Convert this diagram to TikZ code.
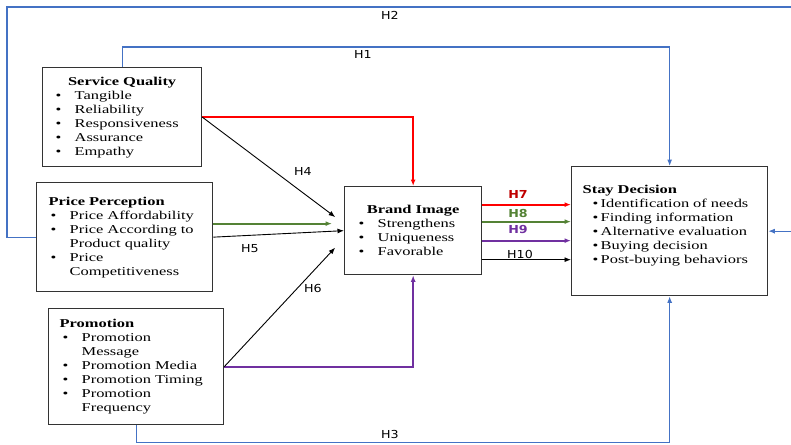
\documentclass[tikz,border=0pt]{standalone}
\usepackage{fontspec}
\setmainfont[FakeStretch=1.37]{Liberation Serif}
\newfontfamily\hypfont[FakeStretch=1.15]{DejaVu Sans}
\usepackage{tikz}
\usetikzlibrary{arrows.meta,positioning,calc}
\definecolor{Link}{HTML}{4472C4}
\definecolor{Hot}{HTML}{FF0000}
\definecolor{HotText}{HTML}{C00000}
\definecolor{Leaf}{HTML}{548235}
\definecolor{Plum}{HTML}{7030A0}
\definecolor{Frame}{HTML}{333333}
\newcommand{\bul}[1]{\makebox[#1][l]{\textbullet}}
\tikzset{
  >={Latex[length=6.5pt,width=5pt]},
  box/.style={draw=Frame,line width=1.3pt,fill=white,anchor=north west,inner xsep=0pt,inner ysep=0pt,align=left,font=\fontsize{12}{14}\selectfont},
  link/.style={->,line width=.9pt,draw=black},
  direct/.style={link,draw=Link,line width=1.1pt},
  via/.style={link,line width=2pt},
  hlab/.style={font=\hypfont\fontsize{11}{13}\selectfont,inner sep=1pt},
  hbold/.style={hlab,font=\hypfont\bfseries\fontsize{11}{13}\selectfont}
}
\begin{document}
\begin{tikzpicture}[x=1pt,y=-1pt]
  \useasboundingbox[fill=white] (0,0) rectangle (791,444);
  \node[box,text width=159pt,minimum height=99pt] (sq) at (42,67) {\makebox[159pt]{\textbf{Service Quality}}\\
    \hspace*{13pt}\bul{19pt}Tangible\\ \hspace*{13pt}\bul{19pt}Reliability\\ \hspace*{13pt}\bul{19pt}Responsiveness\\
    \hspace*{13pt}\bul{19pt}Assurance\\ \hspace*{13pt}\bul{19pt}Empathy};
  \node[box,text width=176pt,minimum height=109pt] (pp) at (36,182) {\hspace*{12pt}\textbf{Price Perception}\\
    \hspace*{14pt}\bul{19pt}Price Affordability\\ \hspace*{14pt}\bul{19pt}Price According to\\ \hspace*{33pt}Product quality\\
    \hspace*{14pt}\bul{19pt}Price\\ \hspace*{33pt}Competitiveness};
  \node[box,text width=175pt,minimum height=116pt] (pr) at (48,308) {\hspace*{11pt}\textbf{Promotion}\\
    \hspace*{14pt}\bul{19pt}Promotion\\ \hspace*{33pt}Message\\ \hspace*{14pt}\bul{19pt}Promotion Media\\
    \hspace*{14pt}\bul{19pt}Promotion Timing\\ \hspace*{14pt}\bul{19pt}Promotion\\ \hspace*{33pt}Frequency};
  \node[box,text width=137pt,minimum height=88pt] (bi) at (344,186) {\makebox[137pt]{\textbf{Brand Image}}\\
    \hspace*{14pt}\bul{19pt}Strengthens\\ \hspace*{14pt}\bul{19pt}Uniqueness\\ \hspace*{14pt}\bul{19pt}Favorable};
  \node[box,text width=196pt,minimum height=129pt] (sd) at (571,166) {\hspace*{11pt}\textbf{Stay Decision}\\
    \hspace*{21pt}\bul{8pt}Identification of needs\\ \hspace*{21pt}\bul{8pt}Finding information\\
    \hspace*{21pt}\bul{8pt}Alternative evaluation\\ \hspace*{21pt}\bul{8pt}Buying decision\\
    \hspace*{21pt}\bul{8pt}Post-buying behaviors\\ \mbox{}};

  \coordinate (h1) at (0,47);
  \coordinate (h2a) at (7,7);
  \coordinate (h2b) at (795,7);
  \coordinate (h3) at (0,442.5);
  \draw[direct] (sq.north) -- (sq.north |- h1) -- (sd.north |- h1) -- (sd.north);
  \draw[direct] (pp.west) -- (pp.west -| h2a) -- (h2a) -- (h2b) -- (h2b |- sd.east) -- (sd.east);
  \draw[direct] (pr.south) -- (pr.south |- h3) -- (sd.south |- h3) -- (sd.south);
  \node[hlab] (l1) at (363,54) {H1};
  \node[hlab] (l2) at (390,15) {H2};
  \node[hlab] (l3) at (390,434) {H3};

  \coordinate (bin) at ($(bi.west)+(0,-7)$);
  \coordinate (bis) at ($(bi.west)+(0,7.5)$);
  \draw[via,draw=Hot] (sq.east) -| (bi.north);
  \draw[via,draw=Plum] (pr.east) -| (bi.south);
  \draw[link,shorten >=11pt] (sq.east) -- (bin);
  \draw[via,draw=Leaf,shorten >=12pt] (pp.east |- bin) -- (bin);
  \draw[link] (pp.east) -- (bi.west);
  \draw[link,shorten >=13pt] (pr.east) -- (bis);
  \node[hlab] (l4) at (303,171) {H4};
  \node[hlab] (l5) at (250,249) {H5};
  \node[hlab] (l6) at (313,288) {H6};

  \foreach \dy/\col in {26/Hot,9/Leaf,-10/Plum}
    \draw[via,draw=\col,line width=1.7pt] ([yshift=\dy pt]bi.east) -- ([yshift=\dy pt]bi.east -| sd.west);
  \draw[link] ([yshift=-29pt]bi.east) -- ([yshift=-29pt]bi.east -| sd.west);
  \node[hbold,text=HotText] (l7) at (518,194) {H7};
  \node[hbold,text=Leaf] (l8) at (518,213) {H8};
  \node[hbold,text=Plum] (l9) at (518,229) {H9};
  \node[hlab] (l10) at (520,254) {H10};
\end{tikzpicture}
\end{document}
